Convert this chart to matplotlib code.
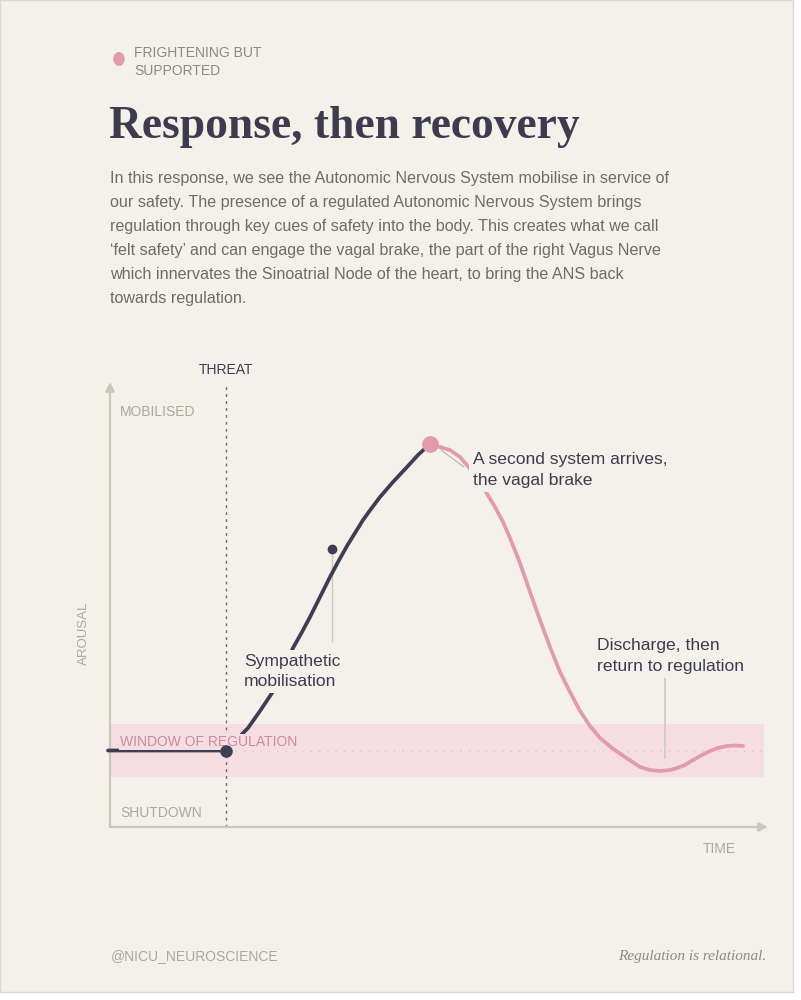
import numpy as np
import matplotlib.pyplot as plt
from matplotlib.patches import Rectangle

# chart values, time 0..654 and arousal 0..440 (arbitrary units)
dark_t = [-2, 116, 138, 150, 162, 173, 183, 192, 200, 210, 220, 228, 237, 245, 253,
          261, 270, 283, 297, 308, 315, 320]
dark_a = [76.5, 76.5, 99, 116, 134, 157, 179, 195, 210, 230, 250, 265, 281, 294, 307,
          318, 330, 345, 360, 372, 378.5, 382.5]

pink_t = [320, 330, 340, 350, 357, 367, 376, 385, 393, 400, 410, 420, 430, 440, 450,
          460, 470, 480, 490, 502, 515, 530, 540, 550, 560, 567, 575, 583, 592, 600,
          608, 617, 625, 633]
pink_a = [382.5, 380, 377, 370, 362, 349, 335, 320, 305, 289, 264, 235, 207, 180, 155,
          135, 116, 101, 89, 79, 70, 60, 57, 56, 57, 59, 62, 67, 72, 76,
          79, 81, 81.5, 81]

baseline = 76.5
band = (50, 103)
threat_t = 116
peak = (320, 383)
symp_dot = (222, 278)
symp_lead = 186
vagal_lead_t = [331, 354]
vagal_lead_a = [377, 360]
disch_t = 555
disch_lead = (69, 150)

body = [
    "In this response, we see the Autonomic Nervous System mobilise in service of",
    "our safety. The presence of a regulated Autonomic Nervous System brings",
    "regulation through key cues of safety into the body. This creates what we call",
    "\u2018felt safety\u2019 and can engage the vagal brake, the part of the right Vagus Nerve",
    "which innervates the Sinoatrial Node of the heart, to bring the ANS back",
    "towards regulation.",
]

bg = '#f4f1eb'
dark = '#3e3e52'
pink = '#e19aae'
band_c = '#f5dde2'
lab_c = '#aca89c'
body_c = '#6f6c64'
axis_c = '#cbc7bb'
lead_c = '#cdc9bd'
ink = '#3d3c4f'

W, H = 801, 1000
sans = 'Liberation Sans'
serif = 'Liberation Serif'

fig = plt.figure(figsize=(W / 100, H / 100), dpi=100)
fig.patch.set_facecolor('white')
fig.add_artist(Rectangle((0, 1 - 992 / H), 793 / W, 992 / H, transform=fig.transFigure,
                         facecolor=bg, edgecolor='#dddad3', lw=1, zorder=-10))


def ftext(px, py, s, target=fig, **kw):
    kw.setdefault('family', sans)
    kw.setdefault('va', 'baseline')
    return target.text(px / W, 1 - py / H, s, transform=fig.transFigure, **kw)


# header
fig.add_artist(plt.Circle((119 / W, 1 - 59 / H), 5 / W, transform=fig.transFigure,
                          color=pink, zorder=5))
ftext(134, 57, "FRIGHTENING BUT", fontsize=10, color='#8d8a7f')
ftext(134, 75, "SUPPORTED", fontsize=10, color='#8d8a7f')
ftext(109, 138, "Response, then recovery", family=serif, fontsize=32.8,
      fontweight='bold', color=ink)
for i, line in enumerate(body):
    ftext(110, 182.5 + i * 24.2, line, fontsize=11.65, color=body_c)

# chart
ax = fig.add_axes([110 / W, 1 - 827 / H, 654 / W, 440 / H])
ax.set_xlim(0, 654)
ax.set_ylim(0, 440)
ax.axis('off')

ax.axhspan(band[0], band[1], color=band_c, lw=0, zorder=0)
ax.plot([0, 654], [baseline, baseline], ls=(0, (1, 5)), color='#dcc3c8', lw=1, zorder=1)

ax.annotate('', xy=(0, 445), xytext=(0, 0), annotation_clip=False,
            arrowprops=dict(arrowstyle='-|>', color=axis_c, lw=1.6, mutation_scale=13,
                            shrinkA=0, shrinkB=0))
ax.annotate('', xy=(658, 0), xytext=(0, 0), annotation_clip=False,
            arrowprops=dict(arrowstyle='-|>', color=axis_c, lw=1.6, mutation_scale=13,
                            shrinkA=0, shrinkB=0))

ax.plot([threat_t, threat_t], [0, 444], ls=(0, (2, 3)), color='#6c6b72', lw=1,
        clip_on=False, zorder=2)

ax.plot(dark_t, dark_a, color=dark, lw=2.7, solid_capstyle='round', solid_joinstyle='round',
        clip_on=False, zorder=3)
ax.plot(pink_t, pink_a, color=pink, lw=2.7, solid_capstyle='round', solid_joinstyle='round',
        zorder=3)

ax.plot([symp_dot[0], symp_dot[0]], [symp_dot[1], symp_lead], color=lead_c, lw=1, zorder=2)
ax.plot(vagal_lead_t, vagal_lead_a, color='#b9b5aa', lw=0.8, zorder=4)
ax.plot([disch_t, disch_t], disch_lead, color=lead_c, lw=1.2, zorder=2)

# chart labels (inside the axes so the dots can sit above them)
ftext(226, 374, "THREAT", ax, fontsize=10, color=ink, ha='center')
ftext(120, 416, "MOBILISED", ax, fontsize=10, color=lab_c)
ftext(120, 746, "WINDOW OF REGULATION", ax, fontsize=10, color='#c98b9d', zorder=4,
      bbox=dict(facecolor=band_c, edgecolor='none', pad=1))
ftext(120, 817, "SHUTDOWN", ax, fontsize=10, color=lab_c)
ftext(703, 853, "TIME", ax, fontsize=10, color=lab_c)
ftext(84, 633, "AROUSAL", ax, fontsize=9.5, color=lab_c, rotation=90, ha='center', va='center')

ann = dict(fontsize=12.6, color=ink, zorder=5,
           bbox=dict(facecolor=bg, edgecolor='none', pad=3))
ftext(244, 666, "Sympathetic", ax, **ann)
ftext(244, 686, "mobilisation", ax, **ann)
ftext(473, 464, "A second system arrives,", ax, **ann)
ftext(473, 485, "the vagal brake", ax, **ann)
ftext(597, 650, "Discharge, then", ax, **ann)
ftext(597, 671, "return to regulation", ax, **ann)

ax.plot(threat_t, baseline, 'o', color=dark, ms=8, zorder=6)
ax.plot(*symp_dot, 'o', color=dark, ms=6, zorder=6)
ax.plot(*peak, 'o', color=pink, ms=11, zorder=6)

# footer
ftext(111, 960, "@NICU_NEUROSCIENCE", fontsize=10, color=lab_c)
ftext(766, 960, "Regulation is relational.", family=serif, style='italic',
      fontsize=11, color='#8d8a7f', ha='right')

fig.savefig('out.png', dpi=100, facecolor=fig.get_facecolor())
